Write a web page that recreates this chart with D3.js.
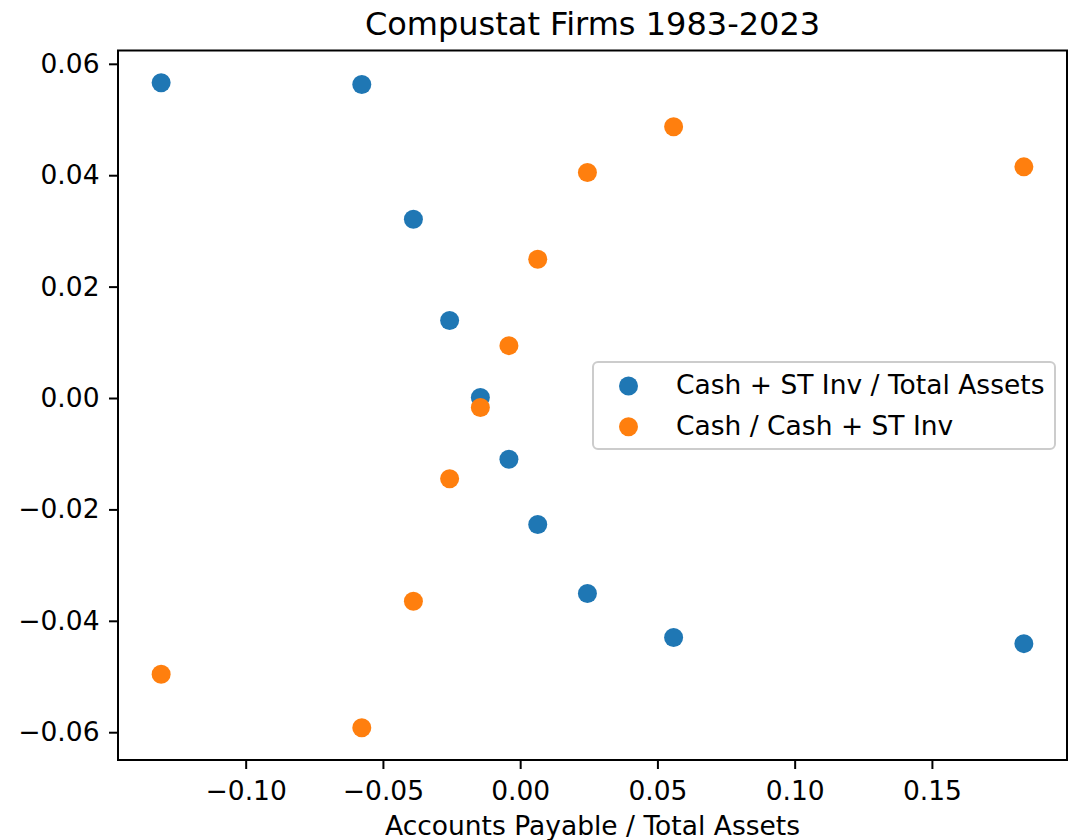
<!DOCTYPE html>
<html>
<head>
<meta charset="utf-8">
<script src="https://cdnjs.cloudflare.com/ajax/libs/d3/7.8.5/d3.min.js"></script>
<style>
body { margin: 0; background: #fff; }
svg text { font-family: "DejaVu Sans", sans-serif; fill: #000; }
</style>
</head>
<body>
<div id="contents"></div>
<script>
// data
var xValues        = [-0.1308, -0.0577, -0.0389, -0.0257, -0.0145, -0.0041, 0.0064, 0.0245, 0.0559, 0.1835];
var cashStInvRatio = [0.0566, 0.0563, 0.0321, 0.0139, 0.0001, -0.0110, -0.0227, -0.0351, -0.0430, -0.0441];
var cashShareRatio = [-0.0496, -0.0592, -0.0365, -0.0145, -0.0017, 0.0094, 0.0249, 0.0405, 0.0487, 0.0415];
var seriesNames    = ['Cash + ST Inv / Total Assets', 'Cash / Cash + ST Inv'];
var seriesColors   = ['#1f77b4', '#ff7f0e'];
var xTicks         = [-0.10, -0.05, 0.00, 0.05, 0.10, 0.15];
var yTicks         = [-0.06, -0.04, -0.02, 0.00, 0.02, 0.04, 0.06];
var titleText      = 'Compustat Firms 1983-2023';
var xLabelText     = 'Accounts Payable / Total Assets';

window.onload = function(){
    'use strict';
    var WIDTH     = 1071;
    var HEIGHT    = 840;
    var LEFT      = 118;
    var RIGHT     = 1067;
    var TOP       = 50.5;
    var BOTTOM    = 760;
    var RADIUS    = 9.5;
    var FONT      = 26.5;
    var TICK      = 9;

    var svg = d3.select('#contents')
        .append('svg')
        .attr('width', WIDTH)
        .attr('height', HEIGHT);

    // matplotlib style 5% margins
    function padded(values) {
        var ext = d3.extent(values);
        var pad = (ext[1] - ext[0]) * 0.05;
        return [ext[0] - pad, ext[1] + pad];
    }

    var allY = cashStInvRatio.concat(cashShareRatio);
    var x = d3.scaleLinear().domain(padded(xValues)).range([LEFT, RIGHT]);
    var y = d3.scaleLinear().domain(padded(allY)).range([BOTTOM, TOP]);
    var fmt = d3.format('.2f');

    var series = [cashStInvRatio, cashShareRatio].map(function(vals, s){
        return vals.map(function(v, i){ return {x: xValues[i], y: v, s: s}; });
    });

    // axes
    var xAxis = svg.append('g')
        .attr('transform', 'translate(0,' + BOTTOM + ')')
        .call(d3.axisBottom(x).tickValues(xTicks).tickFormat(fmt).tickSize(TICK).tickPadding(12));
    var yAxis = svg.append('g')
        .attr('transform', 'translate(' + LEFT + ',0)')
        .call(d3.axisLeft(y).tickValues(yTicks).tickFormat(fmt).tickSize(TICK).tickPadding(9.5));

    [xAxis, yAxis].forEach(function(ax){
        ax.select('.domain').remove();
        ax.selectAll('line').attr('stroke', '#000').attr('stroke-width', 2);
        ax.selectAll('text')
            .attr('font-size', FONT)
            .attr('font-family', '"DejaVu Sans", sans-serif')
            .attr('fill', '#000');
    });

    // points
    series.forEach(function(pts, s){
        svg.append('g')
            .selectAll('circle')
            .data(pts)
            .enter()
            .append('circle')
            .attr('cx', function(d){ return x(d.x); })
            .attr('cy', function(d){ return y(d.y); })
            .attr('r', RADIUS)
            .attr('fill', seriesColors[s]);
    });

    // frame
    svg.append('rect')
        .attr('x', LEFT)
        .attr('y', TOP)
        .attr('width', RIGHT - LEFT)
        .attr('height', BOTTOM - TOP)
        .attr('fill', 'none')
        .attr('stroke', '#000')
        .attr('stroke-width', 2);

    // title + label
    svg.append('text')
        .attr('x', (LEFT + RIGHT) / 2)
        .attr('y', 35)
        .attr('text-anchor', 'middle')
        .attr('font-size', 32)
        .text(titleText);

    svg.append('text')
        .attr('x', (LEFT + RIGHT) / 2)
        .attr('y', 835)
        .attr('text-anchor', 'middle')
        .attr('font-size', FONT)
        .text(xLabelText);

    // legend
    var legend = svg.append('g').attr('transform', 'translate(593,362)');
    legend.append('rect')
        .attr('width', 462)
        .attr('height', 87)
        .attr('rx', 5)
        .attr('fill', '#fff')
        .attr('fill-opacity', 0.8)
        .attr('stroke', '#cccccc')
        .attr('stroke-width', 2);

    var items = legend.selectAll('.item')
        .data(seriesNames)
        .enter()
        .append('g')
        .attr('transform', function(d, i){ return 'translate(0,' + (24 + i * 40.7) + ')'; });
    items.append('circle')
        .attr('cx', 35.5)
        .attr('cy', 0)
        .attr('r', RADIUS)
        .attr('fill', function(d, i){ return seriesColors[i]; });
    items.append('text')
        .attr('x', 83)
        .attr('y', 8)
        .attr('font-size', FONT)
        .text(function(d){ return d; });
};
</script>
</body>
</html>
